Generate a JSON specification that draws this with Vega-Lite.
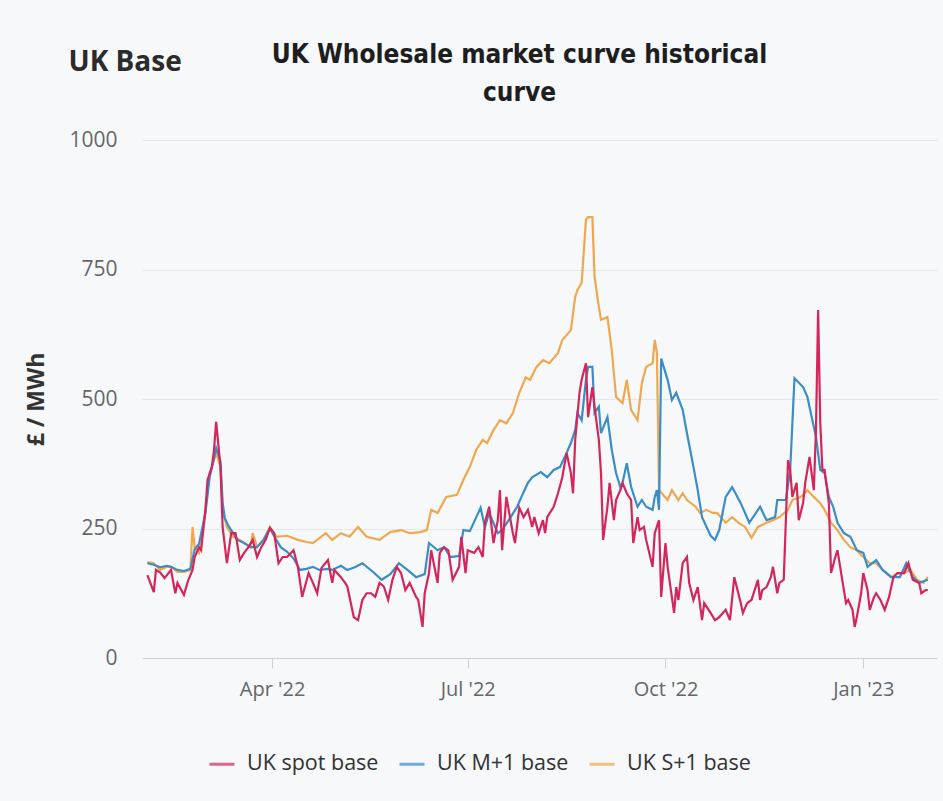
{
"$schema": "https://vega.github.io/schema/vega-lite/v6.json",
"autosize": "none",
"width": 795,
"height": 518,
"padding": {"left": 142, "top": 140, "right": 6, "bottom": 143},
"background": "#f6f8fa",
"config": {"view": {"stroke": null}},
"title": {"text": ["UK Wholesale market curve historical", "curve"], "font": "Liberation Sans Narrow, DejaVu Sans Condensed, Open Sans", "fontSize": 26, "fontWeight": "bold", "lineHeight": 38, "anchor": "middle", "dx": -20, "dy": 92, "offset": 34, "color": "#1e1e1e"},
"datasets": {
"s1": [
{"date":"2022-02-02","value":185},{"date":"2022-02-05","value":183},{"date":"2022-02-08","value":170},{"date":"2022-02-11","value":176},{"date":"2022-02-13","value":176},{"date":"2022-02-16","value":166},{"date":"2022-02-19","value":166},{"date":"2022-02-22","value":170},{"date":"2022-02-23","value":253},{"date":"2022-02-24","value":214},{"date":"2022-02-26","value":203},{"date":"2022-02-27","value":222},{"date":"2022-03-01","value":286},{"date":"2022-03-03","value":357},{"date":"2022-03-05","value":382},{"date":"2022-03-06","value":396},{"date":"2022-03-08","value":369},{"date":"2022-03-09","value":286},{"date":"2022-03-11","value":253},{"date":"2022-03-14","value":234},{"date":"2022-03-17","value":228},{"date":"2022-03-22","value":214},{"date":"2022-03-23","value":241},{"date":"2022-03-25","value":214},{"date":"2022-03-28","value":228},{"date":"2022-03-31","value":253},{"date":"2022-04-03","value":234},{"date":"2022-04-08","value":236},{"date":"2022-04-13","value":228},{"date":"2022-04-17","value":224},{"date":"2022-04-20","value":222},{"date":"2022-04-26","value":241},{"date":"2022-04-29","value":228},{"date":"2022-05-03","value":241},{"date":"2022-05-07","value":234},{"date":"2022-05-11","value":253},{"date":"2022-05-15","value":234},{"date":"2022-05-21","value":228},{"date":"2022-05-26","value":243},{"date":"2022-05-31","value":247},{"date":"2022-06-04","value":241},{"date":"2022-06-09","value":243},{"date":"2022-06-12","value":247},{"date":"2022-06-14","value":286},{"date":"2022-06-17","value":280},{"date":"2022-06-21","value":311},{"date":"2022-06-26","value":315},{"date":"2022-06-29","value":344},{"date":"2022-07-02","value":369},{"date":"2022-07-05","value":402},{"date":"2022-07-08","value":421},{"date":"2022-07-10","value":415},{"date":"2022-07-13","value":440},{"date":"2022-07-16","value":459},{"date":"2022-07-19","value":453},{"date":"2022-07-22","value":473},{"date":"2022-07-25","value":512},{"date":"2022-07-28","value":542},{"date":"2022-07-30","value":537},{"date":"2022-08-02","value":562},{"date":"2022-08-05","value":575},{"date":"2022-08-08","value":569},{"date":"2022-08-12","value":589},{"date":"2022-08-14","value":614},{"date":"2022-08-18","value":633},{"date":"2022-08-20","value":697},{"date":"2022-08-21","value":710},{"date":"2022-08-23","value":724},{"date":"2022-08-25","value":846},{"date":"2022-08-26","value":851},{"date":"2022-08-28","value":851},{"date":"2022-08-29","value":736},{"date":"2022-08-31","value":678},{"date":"2022-09-01","value":653},{"date":"2022-09-04","value":658},{"date":"2022-09-06","value":595},{"date":"2022-09-08","value":504},{"date":"2022-09-11","value":492},{"date":"2022-09-13","value":537},{"date":"2022-09-15","value":479},{"date":"2022-09-18","value":459},{"date":"2022-09-20","value":531},{"date":"2022-09-22","value":562},{"date":"2022-09-25","value":569},{"date":"2022-09-26","value":614},{"date":"2022-09-27","value":589},{"date":"2022-09-28","value":324},{"date":"2022-10-02","value":305},{"date":"2022-10-04","value":324},{"date":"2022-10-07","value":305},{"date":"2022-10-09","value":318},{"date":"2022-10-11","value":305},{"date":"2022-10-15","value":292},{"date":"2022-10-17","value":280},{"date":"2022-10-20","value":286},{"date":"2022-10-23","value":280},{"date":"2022-10-25","value":280},{"date":"2022-10-29","value":261},{"date":"2022-11-01","value":272},{"date":"2022-11-04","value":261},{"date":"2022-11-07","value":253},{"date":"2022-11-10","value":232},{"date":"2022-11-13","value":253},{"date":"2022-11-17","value":261},{"date":"2022-11-20","value":266},{"date":"2022-11-23","value":272},{"date":"2022-11-27","value":286},{"date":"2022-11-29","value":305},{"date":"2022-12-03","value":311},{"date":"2022-12-06","value":324},{"date":"2022-12-09","value":311},{"date":"2022-12-12","value":299},{"date":"2022-12-14","value":286},{"date":"2022-12-17","value":261},{"date":"2022-12-20","value":247},{"date":"2022-12-23","value":228},{"date":"2022-12-26","value":214},{"date":"2022-12-29","value":208},{"date":"2023-01-01","value":195},{"date":"2023-01-04","value":183},{"date":"2023-01-07","value":183},{"date":"2023-01-10","value":170},{"date":"2023-01-14","value":156},{"date":"2023-01-17","value":164},{"date":"2023-01-20","value":164},{"date":"2023-01-23","value":170},{"date":"2023-01-26","value":151},{"date":"2023-01-29","value":145},{"date":"2023-01-31","value":156}
],
"m1": [
{"date":"2022-02-02","value":183},{"date":"2022-02-05","value":180},{"date":"2022-02-08","value":175},{"date":"2022-02-11","value":178},{"date":"2022-02-13","value":176},{"date":"2022-02-16","value":170},{"date":"2022-02-19","value":168},{"date":"2022-02-22","value":172},{"date":"2022-02-24","value":210},{"date":"2022-02-26","value":220},{"date":"2022-03-01","value":280},{"date":"2022-03-03","value":350},{"date":"2022-03-05","value":385},{"date":"2022-03-06","value":405},{"date":"2022-03-08","value":380},{"date":"2022-03-09","value":300},{"date":"2022-03-10","value":270},{"date":"2022-03-12","value":253},{"date":"2022-03-16","value":228},{"date":"2022-03-19","value":222},{"date":"2022-03-22","value":214},{"date":"2022-03-25","value":214},{"date":"2022-03-28","value":228},{"date":"2022-03-31","value":250},{"date":"2022-04-02","value":235},{"date":"2022-04-05","value":214},{"date":"2022-04-08","value":205},{"date":"2022-04-11","value":192},{"date":"2022-04-14","value":170},{"date":"2022-04-17","value":172},{"date":"2022-04-20","value":176},{"date":"2022-04-23","value":170},{"date":"2022-04-27","value":172},{"date":"2022-04-29","value":170},{"date":"2022-05-03","value":178},{"date":"2022-05-06","value":170},{"date":"2022-05-10","value":176},{"date":"2022-05-13","value":183},{"date":"2022-05-18","value":166},{"date":"2022-05-22","value":151},{"date":"2022-05-26","value":162},{"date":"2022-05-30","value":183},{"date":"2022-06-03","value":170},{"date":"2022-06-07","value":156},{"date":"2022-06-11","value":162},{"date":"2022-06-13","value":222},{"date":"2022-06-17","value":208},{"date":"2022-06-20","value":214},{"date":"2022-06-23","value":195},{"date":"2022-06-27","value":197},{"date":"2022-06-29","value":247},{"date":"2022-07-02","value":245},{"date":"2022-07-05","value":272},{"date":"2022-07-07","value":290},{"date":"2022-07-09","value":253},{"date":"2022-07-11","value":280},{"date":"2022-07-15","value":241},{"date":"2022-07-17","value":247},{"date":"2022-07-21","value":272},{"date":"2022-07-24","value":292},{"date":"2022-07-26","value":311},{"date":"2022-07-29","value":338},{"date":"2022-07-31","value":349},{"date":"2022-08-04","value":359},{"date":"2022-08-07","value":349},{"date":"2022-08-10","value":363},{"date":"2022-08-13","value":369},{"date":"2022-08-16","value":396},{"date":"2022-08-18","value":415},{"date":"2022-08-20","value":440},{"date":"2022-08-21","value":473},{"date":"2022-08-23","value":459},{"date":"2022-08-25","value":537},{"date":"2022-08-26","value":562},{"date":"2022-08-28","value":562},{"date":"2022-08-29","value":473},{"date":"2022-08-31","value":485},{"date":"2022-09-01","value":434},{"date":"2022-09-04","value":465},{"date":"2022-09-06","value":402},{"date":"2022-09-08","value":357},{"date":"2022-09-10","value":330},{"date":"2022-09-11","value":338},{"date":"2022-09-13","value":376},{"date":"2022-09-15","value":330},{"date":"2022-09-18","value":292},{"date":"2022-09-20","value":305},{"date":"2022-09-22","value":292},{"date":"2022-09-25","value":286},{"date":"2022-09-26","value":311},{"date":"2022-09-27","value":324},{"date":"2022-09-28","value":286},{"date":"2022-09-29","value":578},{"date":"2022-10-02","value":537},{"date":"2022-10-04","value":498},{"date":"2022-10-06","value":512},{"date":"2022-10-09","value":479},{"date":"2022-10-11","value":434},{"date":"2022-10-14","value":369},{"date":"2022-10-16","value":324},{"date":"2022-10-18","value":272},{"date":"2022-10-22","value":236},{"date":"2022-10-24","value":228},{"date":"2022-10-26","value":247},{"date":"2022-10-29","value":311},{"date":"2022-11-01","value":330},{"date":"2022-11-05","value":299},{"date":"2022-11-09","value":261},{"date":"2022-11-14","value":292},{"date":"2022-11-17","value":266},{"date":"2022-11-21","value":272},{"date":"2022-11-22","value":305},{"date":"2022-11-26","value":305},{"date":"2022-11-28","value":363},{"date":"2022-11-30","value":540},{"date":"2022-12-04","value":523},{"date":"2022-12-06","value":504},{"date":"2022-12-08","value":465},{"date":"2022-12-10","value":427},{"date":"2022-12-12","value":363},{"date":"2022-12-14","value":357},{"date":"2022-12-16","value":311},{"date":"2022-12-18","value":292},{"date":"2022-12-20","value":261},{"date":"2022-12-23","value":241},{"date":"2022-12-26","value":234},{"date":"2022-12-29","value":208},{"date":"2023-01-01","value":203},{"date":"2023-01-03","value":176},{"date":"2023-01-07","value":189},{"date":"2023-01-10","value":170},{"date":"2023-01-14","value":156},{"date":"2023-01-18","value":156},{"date":"2023-01-21","value":183},{"date":"2023-01-24","value":156},{"date":"2023-01-27","value":145},{"date":"2023-01-31","value":151}
],
"spot": [
{"date":"2022-02-02","value":160},{"date":"2022-02-05","value":127},{"date":"2022-02-06","value":170},{"date":"2022-02-08","value":165},{"date":"2022-02-10","value":154},{"date":"2022-02-13","value":170},{"date":"2022-02-15","value":125},{"date":"2022-02-16","value":145},{"date":"2022-02-19","value":122},{"date":"2022-02-21","value":150},{"date":"2022-02-23","value":170},{"date":"2022-02-24","value":195},{"date":"2022-02-26","value":214},{"date":"2022-02-27","value":208},{"date":"2022-03-01","value":286},{"date":"2022-03-02","value":344},{"date":"2022-03-04","value":369},{"date":"2022-03-05","value":402},{"date":"2022-03-06","value":456},{"date":"2022-03-08","value":369},{"date":"2022-03-09","value":253},{"date":"2022-03-11","value":183},{"date":"2022-03-13","value":241},{"date":"2022-03-15","value":241},{"date":"2022-03-17","value":189},{"date":"2022-03-19","value":203},{"date":"2022-03-21","value":214},{"date":"2022-03-23","value":228},{"date":"2022-03-25","value":195},{"date":"2022-03-27","value":214},{"date":"2022-03-29","value":228},{"date":"2022-03-31","value":251},{"date":"2022-04-02","value":241},{"date":"2022-04-04","value":183},{"date":"2022-04-06","value":195},{"date":"2022-04-08","value":195},{"date":"2022-04-11","value":208},{"date":"2022-04-13","value":176},{"date":"2022-04-15","value":118},{"date":"2022-04-18","value":164},{"date":"2022-04-20","value":145},{"date":"2022-04-22","value":125},{"date":"2022-04-24","value":174},{"date":"2022-04-27","value":189},{"date":"2022-04-29","value":145},{"date":"2022-04-30","value":170},{"date":"2022-05-03","value":156},{"date":"2022-05-05","value":145},{"date":"2022-05-06","value":138},{"date":"2022-05-09","value":79},{"date":"2022-05-11","value":73},{"date":"2022-05-13","value":112},{"date":"2022-05-15","value":125},{"date":"2022-05-17","value":125},{"date":"2022-05-19","value":118},{"date":"2022-05-21","value":145},{"date":"2022-05-23","value":138},{"date":"2022-05-25","value":112},{"date":"2022-05-27","value":151},{"date":"2022-05-29","value":176},{"date":"2022-05-31","value":164},{"date":"2022-06-02","value":131},{"date":"2022-06-04","value":145},{"date":"2022-06-07","value":118},{"date":"2022-06-08","value":112},{"date":"2022-06-10","value":60},{"date":"2022-06-11","value":125},{"date":"2022-06-13","value":164},{"date":"2022-06-14","value":208},{"date":"2022-06-17","value":145},{"date":"2022-06-18","value":203},{"date":"2022-06-20","value":214},{"date":"2022-06-22","value":208},{"date":"2022-06-24","value":151},{"date":"2022-06-27","value":176},{"date":"2022-06-28","value":234},{"date":"2022-06-30","value":164},{"date":"2022-07-01","value":208},{"date":"2022-07-04","value":203},{"date":"2022-07-06","value":214},{"date":"2022-07-08","value":195},{"date":"2022-07-09","value":261},{"date":"2022-07-11","value":292},{"date":"2022-07-13","value":222},{"date":"2022-07-15","value":266},{"date":"2022-07-16","value":324},{"date":"2022-07-17","value":208},{"date":"2022-07-19","value":311},{"date":"2022-07-22","value":241},{"date":"2022-07-23","value":222},{"date":"2022-07-25","value":290},{"date":"2022-07-27","value":272},{"date":"2022-07-29","value":286},{"date":"2022-07-31","value":253},{"date":"2022-08-01","value":272},{"date":"2022-08-03","value":241},{"date":"2022-08-05","value":266},{"date":"2022-08-06","value":241},{"date":"2022-08-07","value":272},{"date":"2022-08-10","value":292},{"date":"2022-08-12","value":318},{"date":"2022-08-14","value":349},{"date":"2022-08-16","value":396},{"date":"2022-08-18","value":357},{"date":"2022-08-19","value":318},{"date":"2022-08-20","value":421},{"date":"2022-08-22","value":512},{"date":"2022-08-23","value":537},{"date":"2022-08-25","value":569},{"date":"2022-08-26","value":465},{"date":"2022-08-28","value":523},{"date":"2022-08-29","value":485},{"date":"2022-08-31","value":421},{"date":"2022-09-01","value":357},{"date":"2022-09-02","value":228},{"date":"2022-09-04","value":292},{"date":"2022-09-05","value":338},{"date":"2022-09-07","value":266},{"date":"2022-09-08","value":305},{"date":"2022-09-10","value":324},{"date":"2022-09-11","value":338},{"date":"2022-09-13","value":318},{"date":"2022-09-15","value":305},{"date":"2022-09-16","value":222},{"date":"2022-09-18","value":272},{"date":"2022-09-19","value":247},{"date":"2022-09-21","value":253},{"date":"2022-09-22","value":228},{"date":"2022-09-25","value":176},{"date":"2022-09-26","value":241},{"date":"2022-09-28","value":266},{"date":"2022-09-29","value":118},{"date":"2022-10-01","value":222},{"date":"2022-10-02","value":176},{"date":"2022-10-05","value":87},{"date":"2022-10-06","value":137},{"date":"2022-10-07","value":112},{"date":"2022-10-09","value":183},{"date":"2022-10-11","value":195},{"date":"2022-10-12","value":145},{"date":"2022-10-14","value":112},{"date":"2022-10-16","value":137},{"date":"2022-10-18","value":73},{"date":"2022-10-19","value":106},{"date":"2022-10-22","value":87},{"date":"2022-10-24","value":73},{"date":"2022-10-26","value":79},{"date":"2022-10-29","value":93},{"date":"2022-10-31","value":73},{"date":"2022-11-02","value":156},{"date":"2022-11-05","value":106},{"date":"2022-11-06","value":87},{"date":"2022-11-08","value":106},{"date":"2022-11-10","value":112},{"date":"2022-11-13","value":151},{"date":"2022-11-14","value":112},{"date":"2022-11-15","value":131},{"date":"2022-11-17","value":137},{"date":"2022-11-19","value":156},{"date":"2022-11-20","value":176},{"date":"2022-11-22","value":125},{"date":"2022-11-23","value":145},{"date":"2022-11-25","value":151},{"date":"2022-11-27","value":382},{"date":"2022-11-28","value":363},{"date":"2022-11-29","value":311},{"date":"2022-12-01","value":338},{"date":"2022-12-02","value":266},{"date":"2022-12-04","value":299},{"date":"2022-12-05","value":338},{"date":"2022-12-07","value":388},{"date":"2022-12-09","value":324},{"date":"2022-12-10","value":440},{"date":"2022-12-11","value":672},{"date":"2022-12-12","value":454},{"date":"2022-12-13","value":363},{"date":"2022-12-14","value":363},{"date":"2022-12-16","value":299},{"date":"2022-12-17","value":164},{"date":"2022-12-19","value":195},{"date":"2022-12-20","value":208},{"date":"2022-12-22","value":156},{"date":"2022-12-24","value":106},{"date":"2022-12-25","value":112},{"date":"2022-12-27","value":93},{"date":"2022-12-28","value":60},{"date":"2022-12-29","value":79},{"date":"2022-12-31","value":125},{"date":"2023-01-01","value":164},{"date":"2023-01-03","value":131},{"date":"2023-01-04","value":93},{"date":"2023-01-06","value":118},{"date":"2023-01-07","value":125},{"date":"2023-01-09","value":112},{"date":"2023-01-11","value":93},{"date":"2023-01-13","value":118},{"date":"2023-01-15","value":156},{"date":"2023-01-17","value":164},{"date":"2023-01-20","value":164},{"date":"2023-01-22","value":183},{"date":"2023-01-24","value":151},{"date":"2023-01-27","value":145},{"date":"2023-01-28","value":125},{"date":"2023-01-30","value":131},{"date":"2023-01-31","value":131}
]
},
"encoding": {
"x": {"field": "date", "type": "temporal",
  "scale": {"type": "utc", "domain": [{"year": 2022, "month": 1, "date": 30, "hours": 12, "utc": true}, {"year": 2023, "month": 2, "date": 4, "hours": 7, "utc": true}]},
  "axis": {"title": "UK Base", "titleX": -74, "titleY": -588, "titleAngle": 0, "titleAlign": "left", "titleBaseline": "alphabetic", "titleFont": "Open Sans", "titleFontSize": 28, "titleFontWeight": "bold", "titleColor": "#2b2b2b",
    "labelExpr": "utcFormat(datum.value, \"%b '%y\")", "tickCount": {"interval": "month", "step": 3}, "grid": false, "domainColor": "#ccd1d7", "tickColor": "#ccd1d7", "tickSize": 10, "labelFont": "Open Sans", "labelFontSize": 20, "labelColor": "#666666", "labelPadding": 11, "labelFlush": false}},
"y": {"field": "value", "type": "quantitative",
  "scale": {"domain": [0, 1000], "nice": false, "zero": true},
  "axis": {"title": "£ / MWh", "values": [0, 250, 500, 750, 1000], "format": "d", "domain": false, "ticks": false, "gridColor": "#e3e6ea", "labelFont": "Open Sans", "labelFontSize": 21, "labelColor": "#666666", "labelPadding": 25, "titleFont": "Open Sans", "titleFontSize": 23, "titleFontWeight": "bold", "titleColor": "#333333", "titlePadding": 20}}
},
"layer": [
{"data": {"name": "s1"}, "mark": {"type": "line", "strokeWidth": 2.2},
 "encoding": {"color": {"datum": "UK S+1 base", "type": "nominal",
   "scale": {"domain": ["UK spot base", "UK M+1 base", "UK S+1 base"], "range": ["#d4265a", "#3a8dc6", "#f0a84e"]},
   "legend": {"orient": "none", "legendX": 66, "legendY": 610, "direction": "horizontal", "title": null, "symbolType": "stroke", "symbolStrokeWidth": 3, "symbolSize": 625, "symbolOpacity": 0.7, "labelFont": "Open Sans", "labelFontSize": 21.5, "labelColor": "#333333", "labelOffset": 11, "columnPadding": 14}}}},
{"data": {"name": "m1"}, "mark": {"type": "line", "strokeWidth": 2.2},
 "encoding": {"color": {"datum": "UK M+1 base", "type": "nominal"}}},
{"data": {"name": "spot"}, "mark": {"type": "line", "strokeWidth": 2.2},
 "encoding": {"color": {"datum": "UK spot base", "type": "nominal"}}}
]
}
